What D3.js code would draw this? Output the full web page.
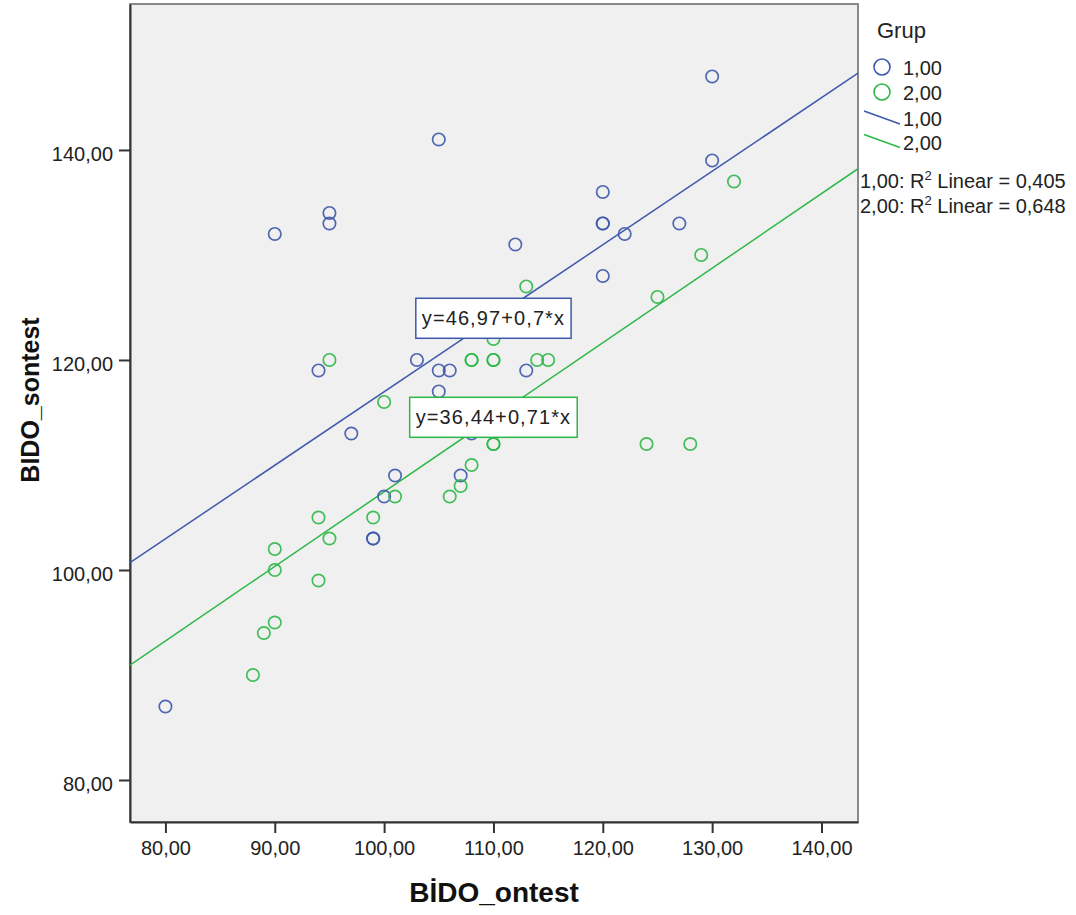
<!DOCTYPE html>
<html><head><meta charset="utf-8">
<script src="https://cdn.jsdelivr.net/npm/d3@7"></script>
<style>
body{margin:0;background:#fff;}
svg text{font-family:"Liberation Sans",Arial,sans-serif;}
</style></head>
<body><svg id="c" width="1076" height="915"></svg>
<script>
// Group 1,00 (blue)
const g1x = [80, 90, 94, 95, 95, 97, 99, 99, 100, 101, 103, 105, 105, 105, 106, 107, 108, 112, 113, 120, 120, 120, 120, 122, 127, 130, 130];
const g1y = [87, 132, 119, 134, 133, 113, 103, 103, 107, 109, 120, 141, 119, 117, 119, 109, 113, 131, 119, 136, 133, 133, 128, 132, 133, 147, 139];
// Group 2,00 (green)
const g2x = [88, 89, 90, 90, 90, 94, 94, 95, 95, 99, 100, 101, 106, 107, 108, 108, 108, 110, 110, 110, 110, 110, 113, 114, 115, 124, 125, 128, 129, 132];
const g2y = [90, 94, 95, 100, 102, 99, 105, 103, 120, 105, 116, 107, 107, 108, 110, 120, 120, 122, 120, 120, 112, 112, 127, 120, 120, 112, 126, 112, 130, 137];
const groups = ["1,00", "2,00"];
const intercepts = [46.97, 36.44];
const slopes = [0.7, 0.71];
const rsq = ["0,405", "0,648"];
const eqLabels = ["y=46,97+0,7*x", "y=36,44+0,71*x"];
const xTicks = [80, 90, 100, 110, 120, 130, 140];
const yTicks = [80, 100, 120, 140];
const colors = ["#3e58ac", "#2eb848"];

const svg = d3.select("#c");
const L = 130, R = 858, T = 4, B = 822;
const x = d3.scaleLinear().domain([76.76, 143.34]).range([L, R]);
const y = d3.scaleLinear().domain([76, 153.9]).range([B, T]);
const fmt = d => d.toFixed(2).replace(".", ",");

svg.append("rect").attr("x", L).attr("y", T).attr("width", R - L).attr("height", B - T)
  .attr("fill", "#f0f0f0").attr("stroke", "#8a8a8a").attr("stroke-width", 2);

svg.append("defs").append("clipPath").attr("id", "clip")
  .append("rect").attr("x", L).attr("y", T).attr("width", R - L).attr("height", B - T);

// axes
const xa = svg.append("g").attr("transform", `translate(0,${B})`)
  .call(d3.axisBottom(x).tickValues(xTicks).tickFormat(fmt).tickSize(11).tickSizeOuter(0).tickPadding(8));
const ya = svg.append("g").attr("transform", `translate(${L},0)`)
  .call(d3.axisLeft(y).tickValues(yTicks).tickFormat(fmt).tickSize(11).tickSizeOuter(0).tickPadding(6));
[xa, ya].forEach(a => {
  a.select(".domain").attr("stroke", "#333").attr("stroke-width", 2);
  a.selectAll(".tick line").attr("stroke", "#333").attr("stroke-width", 2);
  a.selectAll(".tick text").attr("fill", "#222").style("font-size", "20px");
});
ya.selectAll(".tick text").attr("dy", "0.52em");

// titles
svg.append("text").attr("x", (L + R) / 2).attr("y", 902).attr("text-anchor", "middle")
  .style("font-size", "28px").style("font-weight", "bold").attr("fill", "#111").text("BİDO_ontest");
svg.append("text").attr("transform", `translate(39,400) rotate(-90)`).attr("text-anchor", "middle")
  .style("font-size", "25px").style("font-weight", "bold").attr("fill", "#111").text("BIDO_sontest");

const plot = svg.append("g").attr("clip-path", "url(#clip)");
const xd = x.domain();

// regression lines
groups.forEach((g, i) => {
  plot.append("line")
    .attr("x1", x(xd[0])).attr("y1", y(intercepts[i] + slopes[i] * xd[0]))
    .attr("x2", x(xd[1])).attr("y2", y(intercepts[i] + slopes[i] * xd[1]))
    .attr("stroke", colors[i]).attr("stroke-width", 1.5);
});

// points
const sets = [g1x.map((v, i) => [v, g1y[i]]), g2x.map((v, i) => [v, g2y[i]])];
sets.forEach((pts, i) => {
  plot.selectAll(null).data(pts).enter().append("circle")
    .attr("cx", d => x(d[0])).attr("cy", d => y(d[1])).attr("r", 6.2)
    .attr("fill", "none").attr("stroke", colors[i]).attr("stroke-width", 1.7).attr("stroke-opacity", 0.9);
});

// equation labels at x = 110
groups.forEach((g, i) => {
  const cx = x(110), cy = y(intercepts[i] + slopes[i] * 110);
  const grp = svg.append("g");
  const rect = grp.append("rect");
  const t = grp.append("text").attr("x", cx).attr("y", cy + 7).attr("text-anchor", "middle")
    .style("font-size", "20px").style("letter-spacing", "1.1px").attr("fill", "#222").text(eqLabels[i]);
  const w = t.node().getComputedTextLength() + 12;
  rect.attr("x", cx - w / 2).attr("y", cy - 20).attr("width", w).attr("height", 40)
    .attr("fill", "#fff").attr("stroke", colors[i]).attr("stroke-width", 1.5);
});

// legend
svg.append("text").attr("x", 877).attr("y", 38).style("font-size", "22px").attr("fill", "#222").text("Grup");
groups.forEach((g, i) => {
  const cy = 67 + i * 25;
  svg.append("circle").attr("cx", 882).attr("cy", cy).attr("r", 8)
    .attr("fill", "none").attr("stroke", colors[i]).attr("stroke-width", 1.6);
  svg.append("text").attr("x", 903).attr("y", cy + 8).style("font-size", "20px").attr("fill", "#222").text(g);
  const ly = 111 + i * 23.5;
  svg.append("line").attr("x1", 864).attr("y1", ly).attr("x2", 900).attr("y2", ly + 13)
    .attr("stroke", colors[i]).attr("stroke-width", 1.5);
  svg.append("text").attr("x", 903).attr("y", ly + 15).style("font-size", "20px").attr("fill", "#222").text(g);
  const rt = svg.append("text").attr("x", 860).attr("y", 188 + i * 25).style("font-size", "20px").attr("fill", "#222");
  rt.append("tspan").text(g + ": R");
  rt.append("tspan").attr("dy", -8).style("font-size", "13px").text("2");
  rt.append("tspan").attr("dy", 8).text(" Linear = " + rsq[i]);
});
</script></body></html>
